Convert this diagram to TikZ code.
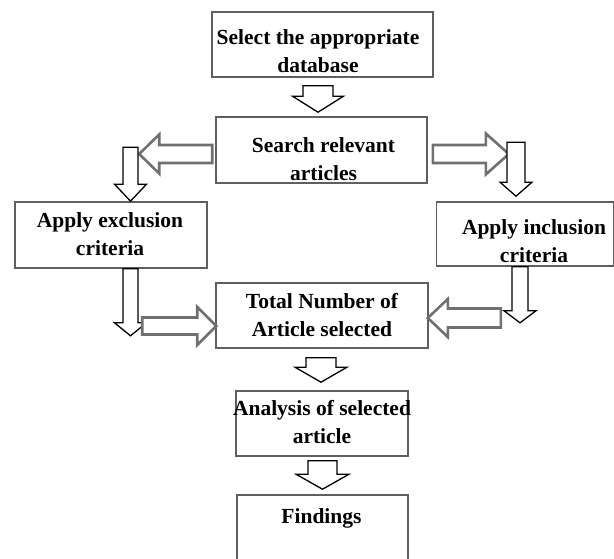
\documentclass[tikz,border=0pt]{standalone}
\usepackage{fontspec}
\setmainfont{Liberation Serif}
\usetikzlibrary{calc}
\definecolor{boxGray}{RGB}{95,95,95}
\definecolor{arrGray}{RGB}{112,112,112}

\begin{document}
\begin{tikzpicture}[
    x=1pt, y=-1pt,
    box/.style={draw=boxGray, line width=1.6pt, fill=white, inner sep=0pt},
    txt/.style={font=\bfseries\fontsize{21.5}{28}\selectfont, align=center,
                inner sep=0pt},
    % block arrow: {shaft half width}{head half width}{head length}
    blk/.style n args={3}{to path={
        let \p1=(\tikztostart), \p2=(\tikztotarget),
            \n1={atan2(\y2-\y1,\x2-\x1)}, \n2={veclen(\x2-\x1,\y2-\y1)} in
        [shift={(\p1)}, rotate=\n1]
        (0,-#1) -- ({\n2-#3},-#1) -- ({\n2-#3},-#2) -- (\n2,0)
        -- ({\n2-#3},#2) -- ({\n2-#3},#1) -- (0,#1) -- cycle}},
    downarr/.style={draw=black, line width=1.3pt, fill=white},
    sidearr/.style={draw=arrGray, line width=2.6pt, fill=white}
]
\useasboundingbox (0,0) rectangle (614,559);

% --- Boxes, top to bottom, with the two criteria boxes at the sides.
\node[box, minimum width=221, minimum height=65] (sel)    at (322.5, 44.5) {};
\node[box, minimum width=211, minimum height=66] (search) at (321.5,150)   {};
\node[box, minimum width=192, minimum height=66] (excl)   at (111  ,235)   {};
\node[box, minimum width=177, minimum height=64] (incl)   at (525  ,234)   {};
\node[box, minimum width=212, minimum height=65] (total)  at (322  ,315.5) {};
\node[box, minimum width=172, minimum height=65] (anal)   at (322  ,423.5) {};
\node[box, minimum width=171, minimum height=70] (find)   at (322.5,530)   {};

% --- Box texts (set a little off centre, as printed).
\node[txt] (selt)    at (318  , 51)   {Select the appropriate\\database};
\node[txt] (searcht) at (323.5,159)   {Search relevant\\articles};
\node[txt] (exclt)   at (110  ,234)   {Apply exclusion\\criteria};
\node[txt] (inclt)   at (534  ,241)   {Apply inclusion\\criteria};
\node[txt] (totalt)  at (322  ,315.5) {Total Number of\\Article selected};
\node[txt] (analt)   at (322  ,422.5) {Analysis of selected\\article};
\node[txt] (findt)   at (321.5,518)   {Findings};

% --- Main column, downward arrows.
\draw[downarr, blk={15}{25.5}{16}] ($(sel.south)+(-4.5,8)$)  to ($(search.north)+(-3.5,-4)$);
\draw[downarr, blk={15}{26}{15}]   ($(total.south)+(-1,9)$)  to ($(anal.north)+(-1,-8)$);
\draw[downarr, blk={14.5}{26.5}{15}] ($(anal.south)+(0.5,4)$) to ($(find.north)+(0,-5)$);

% --- Left branch: search -> exclusion -> total.
\draw[sidearr, blk={9}{19.5}{20}]  ($(search.west)+(-3,4)$)  to ($(search.west)+(-76,4)$);
\draw[downarr, blk={7.5}{16}{17}]  ($(excl.north)+(19.5,-54)$) to ($(excl.north)+(19.5,0)$);
\draw[downarr, blk={7.5}{16}{13}]  ($(excl.south)+(19.5,0)$) to ($(excl.south)+(19.5,67)$);
\draw[sidearr, blk={8.5}{19}{19}]  ($(total.west)+(-73,10.5)$) to ($(total.west)+(1,10.5)$);

% --- Right branch: search -> inclusion -> total.
\draw[sidearr, blk={9}{20.5}{23}]  ($(search.east)+(5,4)$)   to ($(search.east)+(81,4)$);
\draw[downarr, blk={9}{16}{14}]    ($(incl.north)+(-9,-59)$) to ($(incl.north)+(-9,-5)$);
\draw[downarr, blk={8}{16}{12}]    ($(incl.south)+(-5,0)$)   to ($(incl.south)+(-5,56)$);
\draw[sidearr, blk={9.5}{19}{20}]  ($(total.east)+(72,2.5)$) to ($(total.east)+(-1,2.5)$);

\end{tikzpicture}
\end{document}
